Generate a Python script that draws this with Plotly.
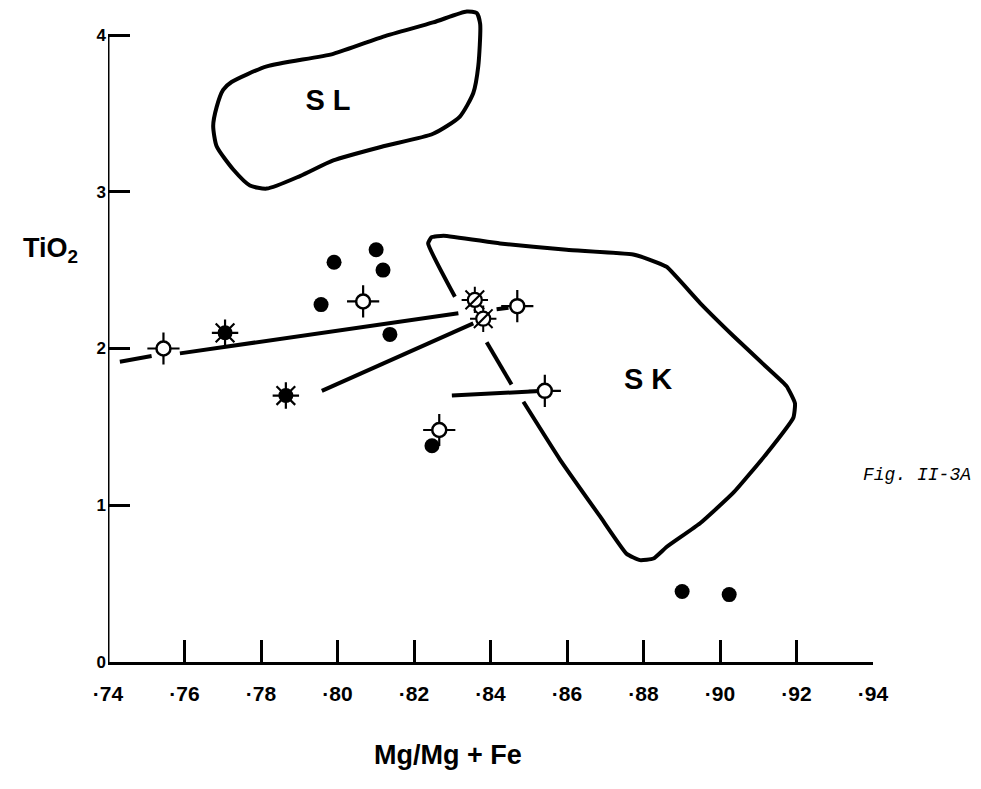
import plotly.graph_objects as go

# ---------------- data ----------------
x_ticks = [0.74, 0.76, 0.78, 0.80, 0.82, 0.84, 0.86, 0.88, 0.90, 0.92, 0.94]
x_tick_labels = ["·74", "·76", "·78", "·80", "·82", "·84", "·86", "·88", "·90", "·92", "·94"]
y_ticks = [0, 1, 2, 3, 4]
y_tick_labels = ["0", "1", "2", "3", "4"]

# filled circles
filled_x = [0.7991, 0.8101, 0.8119, 0.7957, 0.8137, 0.8247, 0.8901, 0.9024]
filled_y = [2.55, 2.63, 2.50, 2.28, 2.09, 1.38, 0.45, 0.43]

# open circles with four spikes
open_x = [0.7545, 0.8067, 0.8470, 0.8542, 0.8266]
open_y = [2.00, 2.30, 2.27, 1.73, 1.48]

# filled "sun" symbols
sun_x = [0.7706, 0.7865]
sun_y = [2.10, 1.70]

# hatched "sun" symbols
hatch_x = [0.8359, 0.8381]
hatch_y = [2.31, 2.19]

# tie lines (segments separated by None)
tie_x = [0.7431, 0.7514, None, 0.7588, 0.8316, None,
         0.7959, 0.8355, None, 0.8416, 0.8447, None, 0.8299, 0.8542]
tie_y = [1.916, 1.952, None, 1.969, 2.225, None,
         1.73, 2.16, None, 2.25, 2.26, None, 1.70, 1.73]

# SL field outline
sl_x = [0.7723, 0.7815, 0.7989, 0.8120, 0.8250, 0.8338, 0.8364, 0.8373, 0.8368, 0.8355,
        0.8320, 0.8250, 0.8120, 0.7989, 0.7902, 0.7815, 0.7771, 0.7728, 0.7684, 0.7675,
        0.7684, 0.7701, 0.7723]
sl_y = [3.70, 3.80, 3.88, 3.99, 4.08, 4.15, 4.14, 4.07, 3.80, 3.63,
        3.48, 3.37, 3.29, 3.20, 3.10, 3.02, 3.04, 3.14, 3.29, 3.42,
        3.54, 3.65, 3.70]

# SK field outline (left side is broken)
sk_x = [0.8307, 0.8237, 0.8246, 0.8277, 0.8425, 0.8599, 0.8773, 0.8834, 0.8861, 0.8948,
        0.9035, 0.9122, 0.9174, 0.9196, 0.9192, 0.9122, 0.9035, 0.8948, 0.8861, 0.8826,
        0.8791, 0.8756, 0.8686, 0.8582, 0.8486, None, 0.8455, 0.8390]
sk_y = [2.33, 2.67, 2.71, 2.72, 2.67, 2.63, 2.60, 2.55, 2.52, 2.29,
        2.08, 1.88, 1.76, 1.65, 1.56, 1.33, 1.08, 0.885, 0.735, 0.66,
        0.65, 0.69, 0.93, 1.29, 1.66, None, 1.77, 2.04]

field_labels = ["S L", "S K"]
field_label_x = [0.7975, 0.8812]
field_label_y = [3.57, 1.79]

# ---------------- layout geometry ----------------
# the page body adds an 8 px offset; the figure is sized to fit the window
OFF = 8
W, H = 981 - OFF, 789 - OFF
L, R, T, B = 100, 108, 0, 127
pw, ph = W - L - R, H - T - B
Y_TOP = ph / 156.75


def px_to_paper(sx, sy):
    fx, fy = sx - OFF, sy - OFF
    return (fx - L) / pw, (H - B - fy) / ph


fig = go.Figure()

fig.add_trace(go.Scatter(x=sl_x, y=sl_y, mode="lines", line=dict(color="black", width=4, shape="spline", smoothing=0.6),
                         hoverinfo="skip"))
fig.add_trace(go.Scatter(x=sk_x, y=sk_y, mode="lines", line=dict(color="black", width=4, shape="spline", smoothing=0.4),
                         hoverinfo="skip"))
fig.add_trace(go.Scatter(x=tie_x, y=tie_y, mode="lines", line=dict(color="black", width=4), hoverinfo="skip"))

# filled circles
fig.add_trace(go.Scatter(x=filled_x, y=filled_y, mode="markers",
                         marker=dict(symbol="circle", size=15, color="black", line=dict(width=0))))

# open circles with spikes
fig.add_trace(go.Scatter(x=open_x, y=open_y, mode="markers",
                         marker=dict(symbol="cross-thin-open", size=23, color="black", line=dict(width=2.2, color="black"))))
fig.add_trace(go.Scatter(x=open_x, y=open_y, mode="markers",
                         marker=dict(symbol="circle", size=14, color="white", line=dict(width=2.5, color="black"))))

# filled suns
fig.add_trace(go.Scatter(x=sun_x, y=sun_y, mode="markers",
                         marker=dict(symbol="asterisk-open", size=22, color="black", line=dict(width=2.2, color="black"))))
fig.add_trace(go.Scatter(x=sun_x, y=sun_y, mode="markers",
                         marker=dict(symbol="circle", size=15, color="black", line=dict(width=0))))

# hatched suns
fig.add_trace(go.Scatter(x=hatch_x, y=hatch_y, mode="markers",
                         marker=dict(symbol="asterisk-open", size=22, color="black", line=dict(width=2, color="black"))))
fig.add_trace(go.Scatter(x=hatch_x, y=hatch_y, mode="markers",
                         marker=dict(symbol="circle", size=14, color="white", line=dict(width=2.2, color="black"))))
fig.add_trace(go.Scatter(x=hatch_x, y=hatch_y, mode="markers",
                         marker=dict(symbol="line-ne-open", size=12, color="black", line=dict(width=2.2, color="black"))))

# field labels
fig.add_trace(go.Scatter(x=field_label_x, y=field_label_y, mode="text", text=field_labels,
                         textfont=dict(family="Liberation Sans, Arial, sans-serif", size=29, color="black", weight=700),
                         hoverinfo="skip"))

# y axis line (0 to 4 only)
fig.add_shape(type="line", xref="x", yref="y", x0=0.74, x1=0.74, y0=0, y1=4,
              line=dict(color="black", width=3))

ax, ay = px_to_paper(448, 755)
tx, ty = px_to_paper(50, 250)
fx, fy = px_to_paper(861, 475)

fig.update_layout(
    width=W, height=H,
    margin=dict(l=L, r=R, t=T, b=B, autoexpand=False),
    paper_bgcolor="white", plot_bgcolor="white",
    showlegend=False,
    xaxis=dict(range=[0.74, 0.94], tickvals=x_ticks, ticktext=x_tick_labels,
               ticks="inside", ticklen=22, tickwidth=3, tickcolor="black",
               showline=True, linewidth=3, linecolor="black",
               showgrid=False, zeroline=False, ticklabelstandoff=11,
               tickfont=dict(family="Liberation Sans Narrow, Liberation Sans, Arial, sans-serif", size=21,
                             color="black", weight=700)),
    yaxis=dict(range=[0, Y_TOP], tickvals=y_ticks, ticktext=y_tick_labels,
               ticks="inside", ticklen=22, tickwidth=3, tickcolor="black",
               showline=False, showgrid=False, zeroline=False, ticklabelstandoff=1,
               tickfont=dict(family="Liberation Sans, Arial, sans-serif", size=17, color="black", weight=700)),
    annotations=[
        dict(text="Mg/Mg + Fe", x=ax, y=ay, xref="paper", yref="paper", showarrow=False,
             xanchor="center", yanchor="middle",
             font=dict(family="Liberation Sans, Arial, sans-serif", size=27, color="black", weight=700)),
        dict(text="TiO<sub>2</sub>", x=tx, y=ty, xref="paper", yref="paper", showarrow=False,
             xanchor="center", yanchor="middle",
             font=dict(family="Liberation Sans, Arial, sans-serif", size=27, color="black", weight=700)),
        dict(text="<i>Fig. II-3A</i>", x=fx, y=fy, xref="paper", yref="paper", showarrow=False,
             xanchor="left", yanchor="middle",
             font=dict(family="Liberation Mono, Courier New, monospace", size=18, color="black")),
    ],
)

fig.write_html("out.html")
